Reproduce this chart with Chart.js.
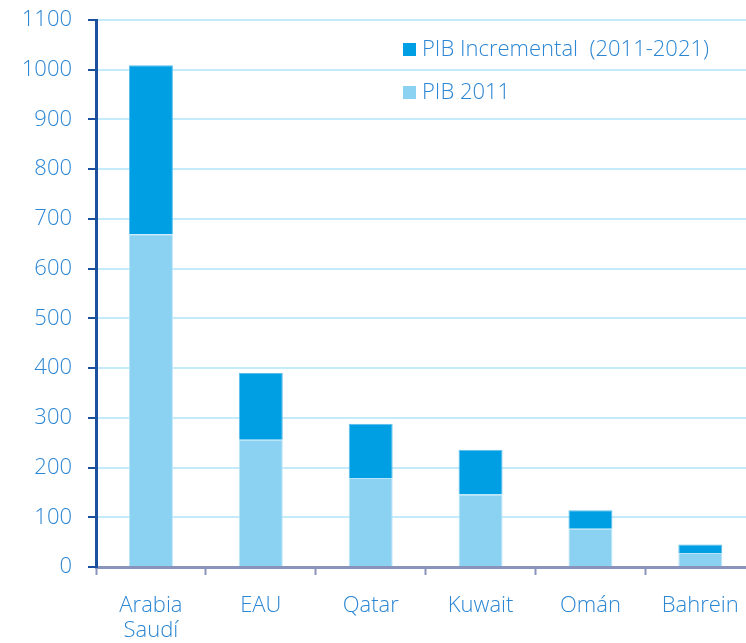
<!DOCTYPE html>
<html>
<head>
<meta charset="utf-8">
<script src="https://cdn.jsdelivr.net/npm/chart.js@4.4.1/dist/chart.umd.min.js"></script>
<style>
  html, body { margin: 0; padding: 0; background: #fff; overflow: hidden; }
  #wrap { width: 758px; height: 643px; }
</style>
</head>
<body>
<div id="wrap"><canvas id="chart"></canvas></div>
<script>
// categories and values
var categories = [['Arabia', 'Saudí'], 'EAU', 'Qatar', 'Kuwait', 'Omán', 'Bahrein'];
var pib2011 = [669, 256, 179, 146, 77, 28];
var pibIncremental = [340, 134, 109, 90, 37, 17];
var yTicks = [0, 100, 200, 300, 400, 500, 600, 700, 800, 900, 1000, 1100];

var textBlue = '#2b86d3';
var font = { family: '"Open Sans", Lato, sans-serif', size: 22, weight: '300', lineHeight: 1.1 };

// draws the legend inside the plot, top right
var insideLegend = {
    id: 'insideLegend',
    afterDraw: function(chart) {
        var ctx = chart.ctx;
        var items = [chart.data.datasets[1], chart.data.datasets[0]];
        ctx.save();
        ctx.font = font.weight + ' ' + font.size + 'px ' + font.family;
        ctx.textBaseline = 'middle';
        items.forEach(function(ds, i) {
            var y = 50 + i * 43;
            ctx.fillStyle = ds.backgroundColor;
            ctx.fillRect(403, y - 7, 13, 13);
            ctx.fillStyle = textBlue;
            ctx.fillText(ds.label, 422, y);
        });
        ctx.restore();
    }
};

var ctx = document.getElementById('chart').getContext('2d');
var chart = new Chart(ctx, {
    type: 'bar',
    data: {
        labels: categories,
        datasets: [{
            label: 'PIB 2011',
            data: pib2011,
            backgroundColor: '#8bd1f2',
            borderColor: '#b9e4f7',
            borderWidth: 1,
            categoryPercentage: 0.8,
            barPercentage: 0.5
        }, {
            label: 'PIB Incremental  (2011-2021)',
            data: pibIncremental,
            backgroundColor: '#009fe3',
            borderColor: '#5bbdeb',
            borderWidth: 1,
            categoryPercentage: 0.8,
            barPercentage: 0.5
        }]
    },
    options: {
        responsive: true,
        maintainAspectRatio: false,
        animation: false,
        layout: { padding: { top: 20, right: 2, left: 0, bottom: 0 } },
        plugins: {
            legend: { display: false },
            tooltip: { enabled: false }
        },
        scales: {
            x: {
                stacked: true,
                border: { color: '#8a93bb', width: 3 },
                grid: { drawOnChartArea: false, tickColor: '#8a93bb', tickLength: 8, tickWidth: 2 },
                ticks: { color: textBlue, font: font, padding: 19, maxRotation: 0 },
                afterFit: function(scale) { scale.height = 76; }
            },
            y: {
                stacked: true,
                min: 0,
                max: 1100,
                afterBuildTicks: function(scale) {
                    scale.ticks = yTicks.map(function(v) { return { value: v }; });
                },
                border: { color: '#1c4f9e', width: 3 },
                grid: { color: '#c4ebfa', lineWidth: 2, tickColor: '#1c4f9e', tickLength: 8, tickWidth: 2 },
                ticks: {
                    color: textBlue, font: font, padding: 16,
                    callback: function(v) { return String(v); }
                },
                afterFit: function(scale) {
                    scale.width = 96;
                    scale.paddingTop = 0;
                    scale.paddingBottom = 0;
                }
            }
        }
    },
    plugins: [insideLegend]
});
</script>
</body>
</html>
